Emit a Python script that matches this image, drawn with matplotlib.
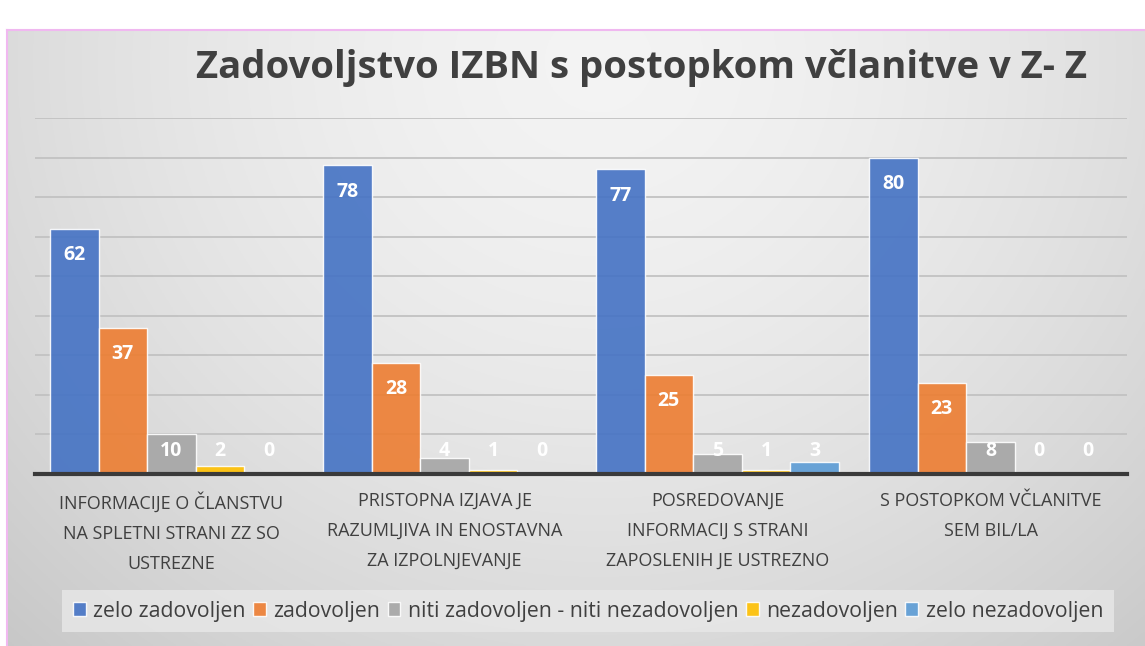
import numpy as np
import matplotlib
matplotlib.use("Agg")
import matplotlib.pyplot as plt

plt.rcParams['font.family'] = ['Open Sans', 'DejaVu Sans']

# data
categories = [
    "INFORMACIJE O ČLANSTVU\nNA SPLETNI STRANI ZZ SO\nUSTREZNE",
    "PRISTOPNA IZJAVA JE\nRAZUMLJIVA IN ENOSTAVNA\nZA IZPOLNJEVANJE",
    "POSREDOVANJE\nINFORMACIJ S STRANI\nZAPOSLENIH JE USTREZNO",
    "S POSTOPKOM VČLANITVE\nSEM BIL/LA",
]
series_names = ["zelo zadovoljen", "zadovoljen", "niti zadovoljen - niti nezadovoljen",
                "nezadovoljen", "zelo nezadovoljen"]
zelo_zadovoljen = [62, 78, 77, 80]
zadovoljen = [37, 28, 25, 23]
niti = [10, 4, 5, 8]
nezadovoljen = [2, 1, 1, 0]
zelo_nezadovoljen = [0, 0, 3, 0]
series = [zelo_zadovoljen, zadovoljen, niti, nezadovoljen, zelo_nezadovoljen]
colors = ["#4472C4", "#ED7D31", "#A5A5A5", "#FFC000", "#5B9BD5"]

W, H = 1145, 646
fig = plt.figure(figsize=(W / 100, H / 100), dpi=100)
fig.patch.set_facecolor("white")

# background panel with soft radial gradient
px0, py1 = 7 / W, 1 - 30 / H
bg = fig.add_axes([px0, 0, 1 - px0, py1], zorder=0)
yy, xx = np.mgrid[0:1:300j, 0:1:500j]
d = np.sqrt(((xx - 0.52) / 0.75) ** 2 + ((yy - 0.05) / 1.3) ** 2)
shade = 0.955 - 0.17 * np.clip(d, 0, 1.2) ** 1.6
bg.imshow(np.dstack([shade] * 3), aspect="auto", extent=[0, 1, 0, 1], origin="upper")
bg.set_axis_off()
# pink frame lines
fig.add_artist(plt.Line2D([px0, px0], [0, py1], color="#f0b8f0", lw=1.5))
fig.add_artist(plt.Line2D([px0, 1], [py1, py1], color="#f0b8f0", lw=1.5))

ax = fig.add_axes([35 / W, 1 - 474 / H, (1127 - 35) / W, (474 - 118) / H], zorder=1)
ax.patch.set_alpha(0)

x = np.arange(len(categories))
n = len(series)
bw = 0.89 / n
for k, (vals, c) in enumerate(zip(series, colors)):
    pos = x - 0.445 + bw * (k + 0.5)
    ax.bar(pos, vals, bw, color=c, edgecolor=(1, 1, 1, 0.45), linewidth=1, alpha=0.9,
           label=series_names[k], zorder=3)
    for xi, v in zip(pos, vals):
        ax.text(xi, max(v - 6.6, 5.8), str(v), ha="center", va="center", color="white",
                fontsize=14, fontweight="bold", zorder=4)

ax.set_xlim(-0.5, len(categories) - 0.5)
ax.set_ylim(0, 90)
ax.set_yticks(np.arange(10, 91, 10))
ax.yaxis.grid(True, color="#c2c2c2", linewidth=1.3, zorder=0)
ax.set_axisbelow(True)
ax.tick_params(axis="y", left=False, labelleft=False)
ax.tick_params(axis="x", length=0, pad=13)
ax.set_xticks(x)
ax.set_xticklabels(categories, fontsize=13, color="#404040", linespacing=1.85)
for s in ["top", "right", "left"]:
    ax.spines[s].set_visible(False)
ax.spines["bottom"].set_color("#3a3a3a")
ax.spines["bottom"].set_linewidth(3)
ax.spines["bottom"].set_zorder(5)

fig.text(642 / W, 1 - 68 / H, "Zadovoljstvo IZBN s postopkom včlanitve v Z- Z",
         ha="center", va="center", fontsize=27.5, fontweight="bold", color="#404040")

leg = fig.legend(loc="center", bbox_to_anchor=(588 / W, 1 - 611 / H), ncol=5,
                 fontsize=15.3, frameon=True, handlelength=0.6, handleheight=0.6,
                 handletextpad=0.35, columnspacing=0.35, borderpad=0.5)
leg.get_frame().set_facecolor("#e8e8e8")
leg.get_frame().set_alpha(0.8)
leg.get_frame().set_edgecolor("none")
leg.get_frame().set_boxstyle("square", pad=0)
for t in leg.get_texts():
    t.set_color("#404040")

fig.savefig("out.png", dpi=100)
